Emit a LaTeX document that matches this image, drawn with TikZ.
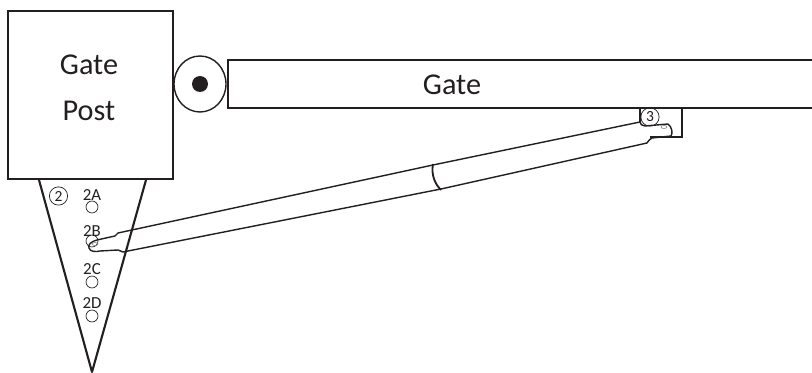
\documentclass[tikz,border=0pt]{standalone}
\usepackage{fontspec}
\setmainfont{Carlito}
\definecolor{inkgray}{HTML}{231F20}
\tikzset{
  thick line/.style={draw=inkgray,line width=1.5pt},
  thin line/.style={draw=inkgray,line width=1pt},
  big label/.style={font=\fontsize{21.5}{33}\selectfont,text=inkgray,inner sep=0pt},
  hole label/.style={font=\fontsize{12}{14}\selectfont,text=inkgray,inner sep=0pt},
  hole/.style={circle,draw=inkgray,line width=0.5pt,minimum size=8.5pt,inner sep=0pt},
  number mark/.style={circle,draw=inkgray,line width=0.5pt,minimum size=13pt,inner sep=0pt,font=\fontsize{11}{13}\selectfont,text=inkgray},
}
\begin{document}
\begin{tikzpicture}[x=0.025cm,y=0.025cm]
\useasboundingbox (0,0) rectangle (812,-373);
% post and bracket plate
\draw [thick line,line join=round] (39,-180) -- (92,-372) -- (146,-180);
\draw [thick line] (8,-11) rectangle (173,-179);
\node [big label,align=center] (postlabel) at (89,-88) {Gate\\Post};
% hinge
\draw [draw=inkgray,line width=1pt] (200,-84) ellipse (26 and 28);
\fill [inkgray] (200,-84) circle (8);
% gate
\draw [thick line] (812,-60) -- (228,-60) -- (228,-108) -- (812,-108);
\node [big label] (gatelabel) at (452,-85) {Gate};
\draw [thick line] (640,-108) -- (640,-122);
\draw [thick line] (650,-137) -- (682,-137) -- (682,-108);
% holes
\node [hole] (holeA) at (92,-207) {};
\node [hole] (holeB) at (92,-241) {};
\node [hole] (holeC) at (92,-282) {};
\node [hole] (holeD) at (92,-316) {};
\node [hole label] (labelA) at (92,-195) {2A};
\node [hole label] (labelB) at (92,-231) {2B};
\node [hole label] (labelC) at (92,-269) {2C};
\node [hole label] (labelD) at (92,-303) {2D};
\node [number mark] (markpost) at (58.5,-196) {2};
\node [number mark] (markgate) at (650,-117) {3};
% actuator
\draw [thin line,line join=round] (640,-122) -- (433,-165) -- (118,-233)
  -- (115,-236) -- (97,-240) .. controls (90,-242) and (88,-245) .. (89,-248)
  .. controls (90,-252) and (96,-252) .. (100,-251) -- (118,-250) -- (123,-252)
  -- (441,-189) -- (647,-143) .. controls (649,-141) and (649,-139) .. (652,-138)
  -- (671,-136) .. controls (673,-133) and (672,-127) .. (668,-124)
  -- (645,-126) .. controls (642,-126) and (640,-124) .. (640,-122);
\draw [draw=inkgray,line width=1.3pt] (433,-164) .. controls (431,-175) and (435,-184) .. (441,-190);
\draw [draw=gray,line width=0.4pt] (664,-127) ellipse (3 and 1.5);
\draw [draw=gray,line width=0.4pt] (95,-244) ellipse (3 and 1.5);
\end{tikzpicture}
\end{document}
